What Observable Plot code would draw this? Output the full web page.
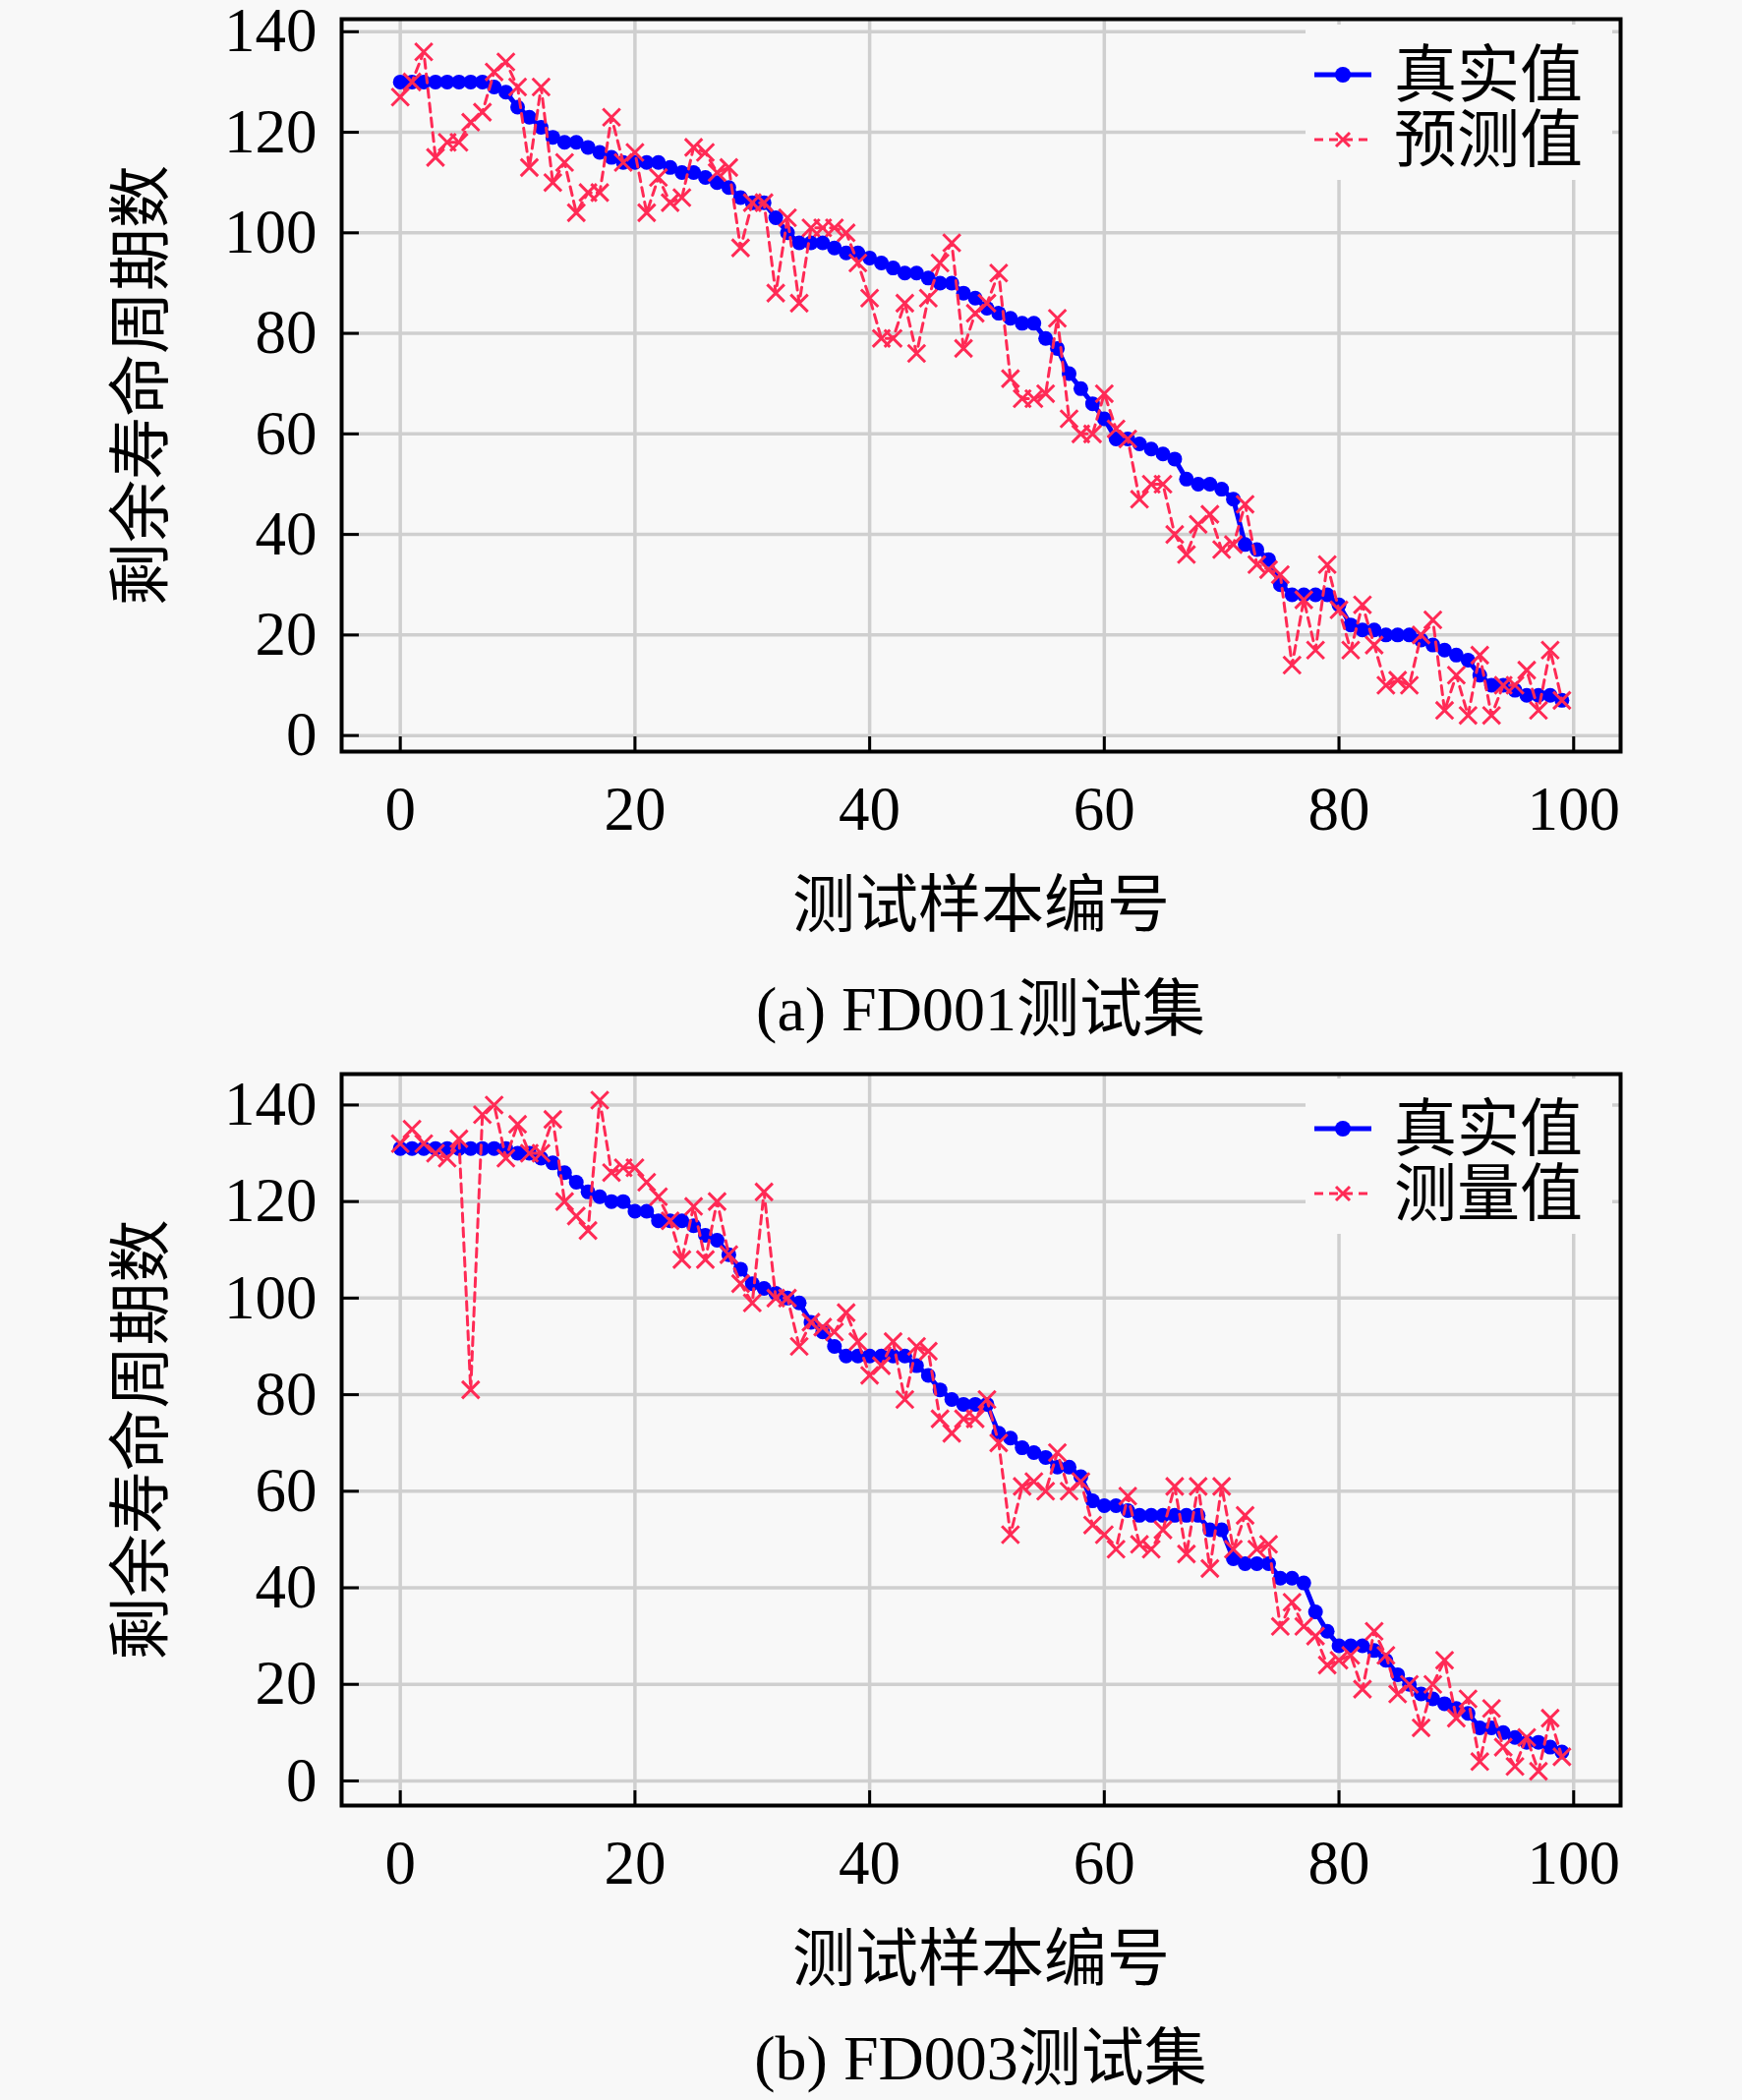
<!DOCTYPE html>
<html>
<head>
<meta charset="utf-8">
<script src="https://cdn.jsdelivr.net/npm/d3@7"></script>
<script src="https://cdn.jsdelivr.net/npm/@observablehq/plot@0.6"></script>
<style>
  html, body { margin: 0; padding: 0; background: #f8f8f8; }
  #wrap { position: relative; width: 1772px; height: 2136px; background: #f8f8f8; }
  .chart { position: absolute; left: 0; width: 1772px; }
  .caption { position: absolute; left: 347px; width: 1301px; height: 70px; line-height: 70px; text-align: center;
             font-family: "Liberation Serif", "Noto Sans CJK SC", serif; font-size: 64px; color: #000; }
  .legend { position: absolute; left: 1328px; width: 312px; height: 158px; background: #f8f8f8; }
</style>
</head>
<body>
<div id="wrap"></div>
<script>
// ---- data ----
const xTicks = [0, 20, 40, 60, 80, 100];
const yTicks = [0, 20, 40, 60, 80, 100, 120, 140];

const fd001Truth = [130,130,130,130,130,130,130,130,129,128,125,123,121,119,118,118,117,116,115,114,
  114,114,114,113,112,112,111,110,109,107,106,106,103,100,98,98,98,97,96,96,
  95,94,93,92,92,91,90,90,88,87,85,84,83,82,82,79,77,72,69,66,
  63,59,59,58,57,56,55,51,50,50,49,47,38,37,35,30,28,28,28,28,
  26,22,21,21,20,20,20,19,18,17,16,15,12,10,10,9,8,8,8,7];
const fd001Pred = [127,130,136,115,118,118,122,124,132,134,129,113,129,110,114,104,108,108,123,114,
  116,104,111,106,107,117,116,112,113,97,106,106,88,103,86,101,101,101,100,94,
  87,79,79,86,76,87,94,98,77,84,86,92,71,67,67,68,83,63,60,60,
  68,61,59,47,50,50,40,36,42,44,37,38,46,34,33,32,14,27,17,34,
  25,17,26,18,10,11,10,20,23,5,12,4,16,4,10,10,13,5,17,7];

const fd003Truth = [131,131,131,131,131,131,131,131,131,131,130,130,129,128,126,124,122,121,120,120,
  118,118,116,116,116,115,113,112,109,106,103,102,101,100,99,95,93,90,88,88,
  88,88,88,88,86,84,81,79,78,78,78,72,71,69,68,67,65,65,63,58,
  57,57,56,55,55,55,55,55,55,52,52,46,45,45,45,42,42,41,35,31,
  28,28,28,27,25,22,20,18,17,16,15,14,11,11,10,9,8,8,7,6];
const fd003Pred = [132,135,132,130,129,133,81,138,140,129,136,130,130,137,120,117,114,141,126,127,
  127,124,121,116,108,119,108,120,109,103,99,122,100,100,90,95,94,93,97,91,
  84,86,91,79,90,89,75,72,75,75,79,70,51,61,62,60,68,60,62,53,
  51,48,59,49,48,52,61,47,61,44,61,48,55,48,49,32,37,32,30,24,
  25,26,19,31,26,18,20,11,20,25,13,17,4,15,7,3,9,2,13,5];

const labelTruth = "真实值";
const labelPredA = "预测值";
const labelPredB = "测量值";
const yTitle = "剩余寿命周期数";
const xTitle = "测试样本编号";
const captionA = "(a) FD001测试集";
const captionB = "(b) FD003测试集";

// ---- styling ----
const BLUE = "#0000ff";
const RED = "#ff2a55";
const FONT = "'Liberation Serif', 'Noto Sans CJK SC', serif";

function chart(truth, pred, yDomain, marginTop) {
  const T = truth.map((v, i) => ({i, v}));
  const P = pred.map((v, i) => ({i, v}));
  return Plot.plot({
    width: 1772, height: 980,
    marginTop, marginBottom: 216, marginLeft: 347, marginRight: 124,
    style: {background: "transparent", fontFamily: FONT, color: "black", overflow: "visible"},
    x: {domain: [-5, 104]},
    y: {domain: yDomain},
    marks: [
      Plot.gridX(xTicks, {stroke: "#cfcfcf", strokeOpacity: 1, strokeWidth: 3.5}),
      Plot.gridY(yTicks, {stroke: "#cfcfcf", strokeOpacity: 1, strokeWidth: 3.5}),
      Plot.line(T, {x: "i", y: "v", stroke: BLUE, strokeWidth: 5}),
      Plot.dot(T, {x: "i", y: "v", fill: BLUE, stroke: "none", r: 7.5}),
      Plot.line(P, {x: "i", y: "v", stroke: RED, strokeWidth: 3, strokeDasharray: "9,6"}),
      Plot.dot(P, {x: "i", y: "v", symbol: "times", stroke: RED, strokeWidth: 3, r: 8}),
      Plot.frame({stroke: "black", strokeWidth: 4}),
      Plot.axisX(xTicks, {tickSize: -15, strokeWidth: 3, stroke: "black", fill: "none", label: null}),
      Plot.axisY(yTicks, {tickSize: -18, strokeWidth: 3, stroke: "black", fill: "none", label: null}),
      Plot.axisX(xTicks, {tickSize: 0, tickPadding: 35, fontSize: 63, fill: "black", stroke: "none", label: null}),
      Plot.axisY(yTicks, {tickSize: 0, tickPadding: 25, fontSize: 63, fill: "black", stroke: "none", label: null}),
      Plot.text([yTitle], {text: d => d, frameAnchor: "left", dx: -203, rotate: -90, textAnchor: "middle", lineAnchor: "middle", fontSize: 64, fill: "black"}),
      Plot.text([xTitle], {text: d => d, frameAnchor: "bottom", dy: 157, fontSize: 64, lineAnchor: "middle", fill: "black"})
    ]
  });
}

function legend(top, predLabel) {
  const div = document.createElement("div");
  div.className = "legend";
  div.style.top = top + "px";
  div.innerHTML = `
  <svg width="312" height="158" style="overflow:visible">
    <line x1="9" x2="67" y1="51" y2="51" stroke="${BLUE}" stroke-width="5"/>
    <circle cx="38" cy="51" r="8" fill="${BLUE}"/>
    <text x="90" y="51" dominant-baseline="central" font-size="64" font-family="${FONT.replace(/'/g, "&quot;")}">${labelTruth}</text>
    <line x1="9" x2="67" y1="117" y2="117" stroke="${RED}" stroke-width="3" stroke-dasharray="9,6"/>
    <path d="M31,110 L45,124 M45,110 L31,124" stroke="${RED}" stroke-width="3"/>
    <text x="90" y="117" dominant-baseline="central" font-size="64" font-family="${FONT.replace(/'/g, "&quot;")}">${predLabel}</text>
  </svg>`;
  return div;
}

function caption(top, txt) {
  const div = document.createElement("div");
  div.className = "caption";
  div.style.top = top + "px";
  div.textContent = txt;
  return div;
}

const wrap = document.getElementById("wrap");

const c1 = document.createElement("div");
c1.className = "chart"; c1.style.top = "0px";
c1.appendChild(chart(fd001Truth, fd001Pred, [-3.2, 142.5], 19));
wrap.appendChild(c1);
wrap.appendChild(legend(25, labelPredA));
wrap.appendChild(caption(1027 - 35, captionA));

const c2 = document.createElement("div");
c2.className = "chart"; c2.style.top = "1072px";
c2.appendChild(chart(fd003Truth, fd003Pred, [-5.1, 146.4], 20));
wrap.appendChild(c2);
wrap.appendChild(legend(1072 + 25, labelPredB));
wrap.appendChild(caption(2094 - 35, captionB));
</script>
</body>
</html>
